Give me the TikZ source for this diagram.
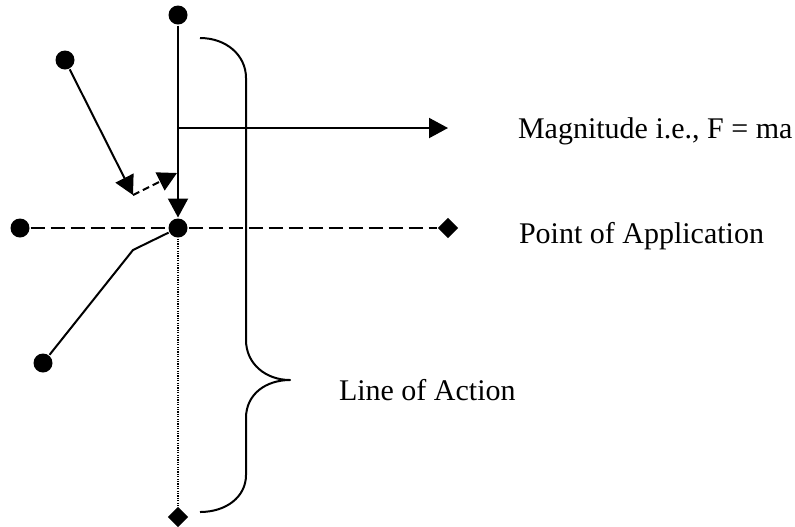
\documentclass[tikz,border=0pt]{standalone}
\usepackage{fontspec}
\setmainfont{Liberation Serif}
\usepackage{tikz}
\usetikzlibrary{arrows.meta,shapes.geometric}

\begin{document}
\begin{tikzpicture}[x=0.5pt,y=-0.5pt,line width=1pt,line join=round,
  >={Triangle[length=9.5pt,width=10pt]},
  font=\fontsize{15}{18}\selectfont,
  dot/.style={circle,fill=black,inner sep=0pt,minimum size=9.5pt},
  tipdia/.style={diamond,fill=black,inner sep=0pt,minimum size=10.5pt},
  longdash/.style={dash pattern=on 7pt off 3pt},
  shortdash/.style={dash pattern=on 3.5pt off 2pt},
  finedot/.style={line width=0.6pt,dash pattern=on 0.6pt off 0.6pt},
  lbl/.style={anchor=base west,inner sep=0pt}]

  \useasboundingbox (0,0) rectangle (795,526);

  %% ---------------------------------------------------------------
  %% points
  %% ---------------------------------------------------------------
  \node[dot] (top) at (178,15) {};
  \node[dot] (apply) at (178,228) {};
  \node[dot] (ul) at (65,60) {};
  \node[dot] (left) at (20,228) {};
  \node[dot] (ll) at (43,363) {};
  \node[tipdia] (rdia) at (448,228) {};
  \node[tipdia] (bdia) at (178,517) {};

  % free ends
  \coordinate (mstart) at (178,128);
  \coordinate (mend) at (448,128);
  \coordinate (ultip) at (133,195);
  \coordinate (comp) at (177,173);
  \coordinate (bend) at (133,250);

  %% ---------------------------------------------------------------
  %% force, magnitude, components
  %% ---------------------------------------------------------------
  \draw[->] (top) -- (apply);
  \draw[->] (mstart) -- (mend);
  \draw[->] (ul) -- (ultip);
  \draw[->,shortdash] (ultip) -- (comp);

  % point of application and line of action
  \draw[longdash] (left) -- (apply);
  \draw[longdash] (apply) -- (rdia);
  \draw[finedot] (apply) -- (bdia);
  \draw (ll) -- (bend) -- (apply);

  % brace
  \draw (200,38) .. controls (226,38) and (246,55) .. (246,78)
    -- (246,340) .. controls (246,364) and (266,380) .. (290,380)
    .. controls (266,380) and (246,394) .. (246,418)
    -- (246,475) .. controls (246,497) and (226,512) .. (200,512);

  %% ---------------------------------------------------------------
  %% labels
  %% ---------------------------------------------------------------
  \node[lbl] (magtxt) at (517,138) {Magnitude i.e., F = ma};
  \node[lbl] (apptxt) at (518,243) {Point of Application};
  \node[lbl] (loatxt) at (338,400) {Line of Action};

\end{tikzpicture}
\end{document}
